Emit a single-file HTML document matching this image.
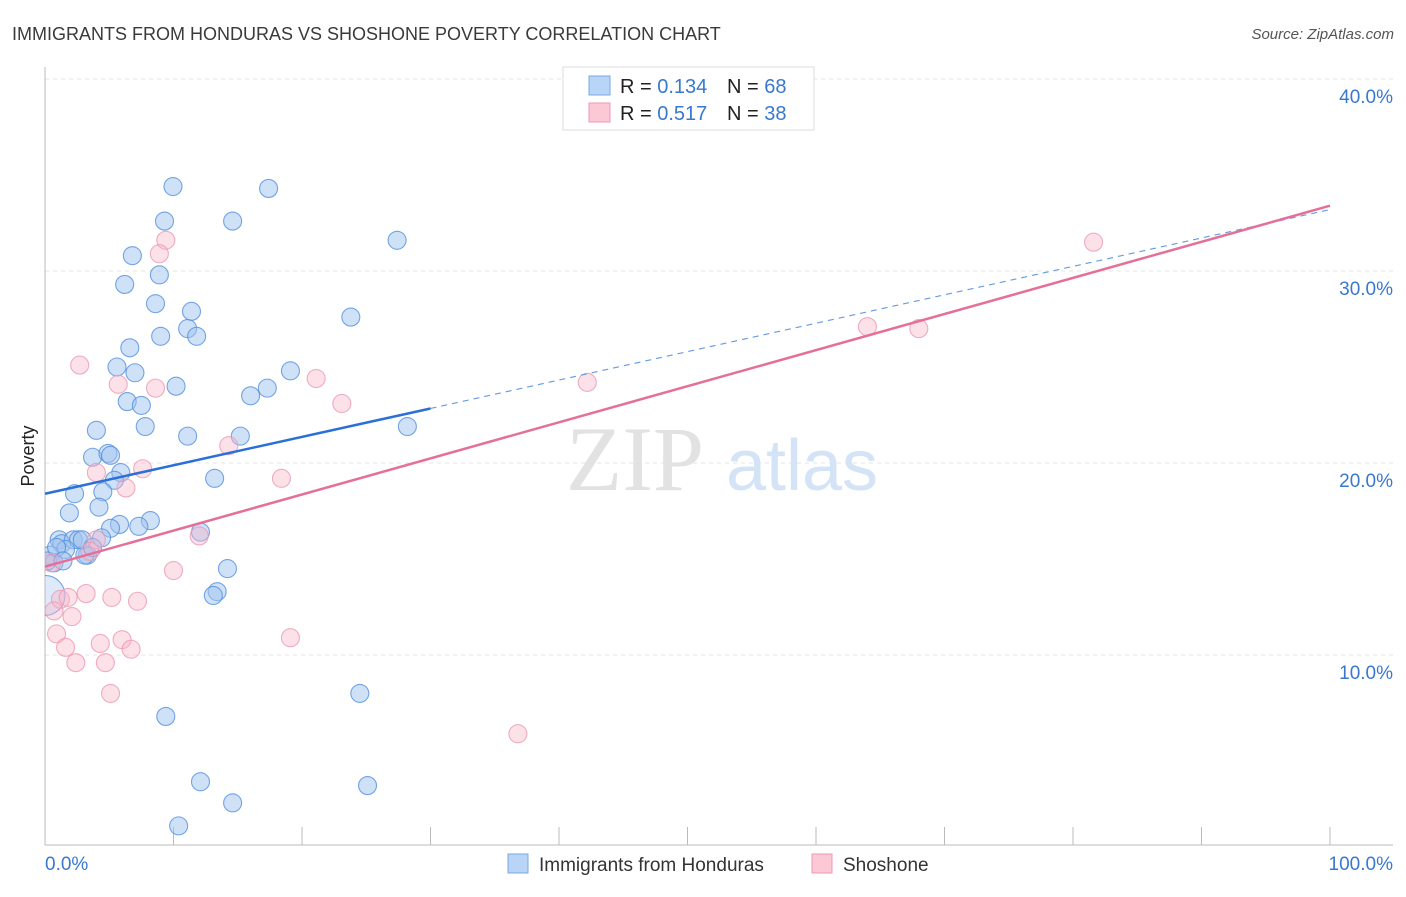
<!DOCTYPE html>
<html><head><meta charset="utf-8"><style>
body{margin:0;background:#fff;font-family:"Liberation Sans",sans-serif}
</style></head><body>
<svg width="1406" height="892" xmlns="http://www.w3.org/2000/svg" font-family="Liberation Sans, sans-serif">
<defs><clipPath id="plotclip"><rect x="45" y="60" width="1360" height="785"/></clipPath></defs>
<text x="12" y="40" font-size="18" fill="#3a3a3a">IMMIGRANTS FROM HONDURAS VS SHOSHONE POVERTY CORRELATION CHART</text>
<text x="1394" y="39" font-size="15" fill="#555" font-style="italic" text-anchor="end">Source: ZipAtlas.com</text>
<g id="grid"></g>
<g>
<text x="635" y="490" font-size="92" fill="#e2e2e2" font-family="Liberation Serif, serif" text-anchor="middle">ZIP</text>
<text x="802" y="490" font-size="72" fill="#d4e3f5" text-anchor="middle">atlas</text>
</g>
<g id="axes"></g>
<g id="pts" clip-path="url(#plotclip)"></g>
<g id="trend"></g>
<text transform="translate(34,456) rotate(-90)" font-size="18" fill="#222" text-anchor="middle">Poverty</text>
<g>
<rect x="563" y="67" width="251" height="63" fill="#fff" stroke="#ddd"/>
<rect x="589" y="76" width="21" height="19" fill="#b8d4f6" stroke="#7aa8e0"/>
<rect x="589" y="103" width="21" height="19" fill="#fcc8d6" stroke="#ee9ab2"/>
<text x="620" y="93" font-size="20" fill="#222">R = <tspan fill="#3a78d0">0.134</tspan></text>
<text x="727" y="93" font-size="20" fill="#222">N = <tspan fill="#3a78d0">68</tspan></text>
<text x="620" y="120" font-size="20" fill="#222">R = <tspan fill="#3a78d0">0.517</tspan></text>
<text x="727" y="120" font-size="20" fill="#222">N = <tspan fill="#3a78d0">38</tspan></text>
</g>
<g>
<rect x="508" y="854" width="20" height="19" fill="#b8d4f6" stroke="#7aa8e0"/>
<text x="539" y="871" font-size="19" fill="#333">Immigrants from Honduras</text>
<rect x="812" y="854" width="20" height="19" fill="#fcc8d6" stroke="#ee9ab2"/>
<text x="843" y="871" font-size="19" fill="#333">Shoshone</text>
</g>
</svg>
<script>
const yTicks=[10,20,30,40];
const yTickLabels=["10.0%","20.0%","30.0%","40.0%"];
const xTickCount=10;
const blueX=[9.96,17.4,9.3,14.6,27.4,6.8,8.9,6.2,8.6,11.4,23.8,11.1,9.0,11.8,6.6,5.6,7.0,10.2,19.1,17.3,16.0,6.4,7.5,7.8,4.0,11.1,15.2,28.2,3.7,4.9,5.1,5.9,5.4,13.2,2.3,4.5,1.9,4.2,8.2,7.3,5.8,5.1,12.1,4.4,1.1,1.3,2.2,2.6,3.3,3.1,1.6,0.4,0.7,14.2,13.4,13.1,24.5,9.4,12.1,14.6,25.1,10.4,0.2,2.9,3.7,0.9,1.4,0];
const blueY=[34.4,34.3,32.6,32.6,31.6,30.8,29.8,29.3,28.3,27.9,27.6,27.0,26.6,26.6,26.0,25.0,24.7,24.0,24.8,23.9,23.5,23.2,23.0,21.9,21.7,21.4,21.4,21.9,20.3,20.5,20.4,19.5,19.1,19.2,18.4,18.5,17.4,17.7,17.0,16.7,16.8,16.6,16.4,16.1,16.0,15.8,16.0,16.0,15.2,15.2,15.5,15.2,14.8,14.5,13.3,13.1,8.0,6.8,3.4,2.3,3.2,1.1,14.9,16.0,15.6,15.6,14.9,13.1];
const pinkX=[9.4,8.9,2.7,5.7,8.6,23.1,21.1,14.3,4.0,7.6,6.3,18.4,12.0,4.0,3.5,10.0,0.5,3.2,1.2,1.8,5.2,7.2,0.7,2.1,0.9,4.3,6.0,6.7,1.6,2.4,4.7,5.1,19.1,36.8,42.2,64.0,68.0,81.6];
const pinkY=[31.6,30.9,25.1,24.1,23.9,23.1,24.4,20.9,19.5,19.7,18.7,19.2,16.2,16.0,15.4,14.4,14.8,13.2,12.9,13.0,13.0,12.8,12.3,12.0,11.1,10.6,10.8,10.3,10.4,9.6,9.6,8.0,10.9,5.9,24.2,27.1,27.0,31.5];
const blueTrend=[18.4,33.2];
const pinkTrend=[14.6,33.4];
const blueSolidEnd=30;
const NS="http://www.w3.org/2000/svg";
const X=v=>45+v*12.85, Y=v=>847-v*19.2;
function mk(t,a,p){const e=document.createElementNS(NS,t);for(const k in a)e.setAttribute(k,a[k]);p.appendChild(e);return e;}
const grid=document.getElementById('grid'),axes=document.getElementById('axes'),pts=document.getElementById('pts'),tr=document.getElementById('trend');
yTicks.forEach((v,i)=>{
 const l=mk('line',{x1:45,x2:1393,y1:Y(v),y2:Y(v),stroke:'#e4e4e4','stroke-dasharray':'4,4'},grid);
 
 
 const t=mk('text',{x:1393,y:Y(v)+24,'font-size':19,fill:'#3a78d0','text-anchor':'end'},grid);
 t.textContent=yTickLabels[i];
 
 
});
const ax1=mk('line',{x1:45,x2:45,y1:67,y2:845,stroke:'#bbb'},axes);


const ax2=mk('line',{x1:45,x2:1393,y1:845,y2:845,stroke:'#bbb'},axes);


for(let i=0;i<=xTickCount;i++){const x=X(i*100/xTickCount);
 const tk=mk('line',{x1:x,x2:x,y1:827,y2:845,stroke:'#bbb'},axes);
 
 }
const xl0=mk('text',{x:45,y:870,'font-size':19,fill:'#3a78d0'},axes);xl0.textContent='0.0%';


const xl1=mk('text',{x:1393,y:870,'font-size':19,fill:'#3a78d0','text-anchor':'end'},axes);xl1.textContent='100.0%';


blueX.forEach((v,i)=>{
 const big=i===blueX.length-1;
 const c=mk('circle',{cx:X(v),cy:Y(blueY[i]),r:big?20:9,fill:big?'rgba(160,196,240,0.35)':'rgba(160,196,240,0.5)',stroke:'#5590dd','stroke-opacity':0.8,'stroke-width':1.1},pts);
 
 
});
pinkX.forEach((v,i)=>{
 const c=mk('circle',{cx:X(v),cy:Y(pinkY[i]),r:9,fill:'rgba(248,180,200,0.4)',stroke:'#eb9ab3','stroke-opacity':0.8,'stroke-width':1.1},pts);
 
 
});
const bv=x=>blueTrend[0]+(blueTrend[1]-blueTrend[0])*x/100, pv=x=>pinkTrend[0]+(pinkTrend[1]-pinkTrend[0])*x/100;
const b1=mk('line',{x1:X(0),y1:Y(bv(0)),x2:X(blueSolidEnd),y2:Y(bv(blueSolidEnd)),stroke:'#2a70d6','stroke-width':2.5},tr);


const b2=mk('line',{x1:X(blueSolidEnd),y1:Y(bv(blueSolidEnd)),x2:X(100),y2:Y(bv(100)),stroke:'#6a9be0','stroke-width':1.2,'stroke-dasharray':'6,5'},tr);


const p1=mk('line',{x1:X(0),y1:Y(pv(0)),x2:X(100),y2:Y(pv(100)),stroke:'#e4709a','stroke-width':2.5},tr);


</script>
</body></html>
